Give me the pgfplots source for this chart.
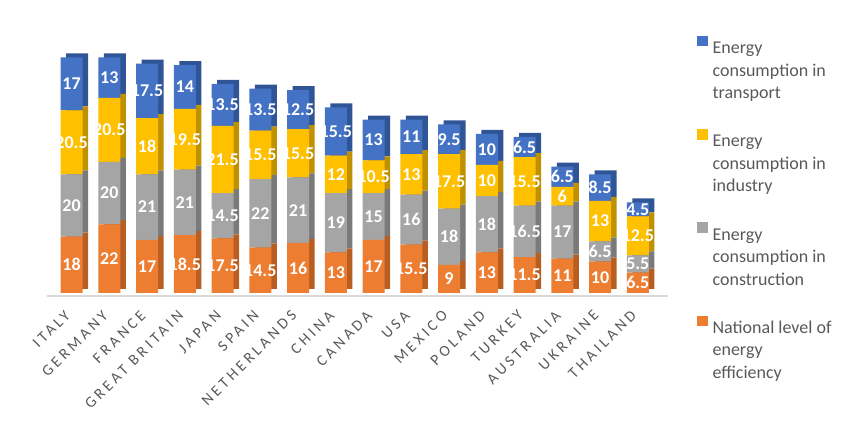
\documentclass[border=0pt]{standalone}
\usepackage{fontspec}
\setmainfont{Carlito}
\newfontfamily\tickfont[LetterSpace=22]{Carlito}
\usepackage{pgfplots}
\usepackage{pgfplotstable}
\pgfplotsset{compat=1.18}

\definecolor{cEff}{HTML}{ED7D31}
\definecolor{cCon}{HTML}{A5A5A5}
\definecolor{cInd}{HTML}{FFC000}
\definecolor{cTra}{HTML}{4472C4}
\definecolor{dEff}{HTML}{B85E20}
\definecolor{dCon}{HTML}{7A7A7A}
\definecolor{dInd}{HTML}{BF9000}
\definecolor{dTra}{HTML}{2F5597}
\definecolor{txtgray}{HTML}{595959}
\definecolor{floor}{HTML}{D9D9D9}

% national efficiency, construction, industry, transport
\pgfplotstableread{
x eff con ind tra
0 18 20 20.5 17
1 22 20 20.5 13
2 17 21 18 17.5
3 18.5 21 19.5 14
4 17.5 14.5 21.5 13.5
5 14.5 22 15.5 13.5
6 16 21 15.5 12.5
7 13 19 12 15.5
8 17 15 10.5 13
9 15.5 16 13 11
10 9 18 17.5 9.5
11 13 18 10 10
12 11.5 16.5 15.5 6.5
13 11 17 6 6.5
14 10 6.5 13 8.5
15 6.5 5.5 12.5 4.5
}\data

\pgfplotsset{
  base/.style={
    scale only axis, width=621pt, height=252.7pt,
    xmin=-0.65, xmax=15.8, ymin=-1, ymax=80,
    anchor=south west, clip=false,
  },
}

\begin{document}
\begin{tikzpicture}
\useasboundingbox (0,0) rectangle (850pt,429pt);

% side and top faces
\begin{axis}[base, at={(52.5pt,137pt)}, hide axis,
  ybar stacked, bar width=22pt]
\addplot[fill=dEff, draw=none] table[x=x, y=eff] {\data};
\addplot[fill=dCon, draw=none] table[x=x, y=con] {\data};
\addplot[fill=dInd, draw=none] table[x=x, y=ind] {\data};
\addplot[fill=dTra, draw=none] table[x=x, y=tra] {\data};
\end{axis}

% front faces
\begin{axis}[base, at={(47pt,133pt)},
  ybar stacked, bar width=22pt,
  axis x line=bottom, axis y line=none,
  x axis line style={-, draw=floor, line width=1.5pt},
  major tick length=0pt, ytick=\empty,
  xtick={0,...,15},
  xticklabels={ITALY,GERMANY,FRANCE,GREAT BRITAIN,JAPAN,SPAIN,NETHERLANDS,CHINA,CANADA,USA,MEXICO,POLAND,TURKEY,AUSTRALIA,UKRAINE,THAILAND},
  xticklabel style={xshift=-4pt, yshift=-17pt, rotate=45, anchor=east, inner sep=0pt,
    font=\tickfont\fontsize{15.5}{18}\selectfont, text=txtgray},
  legend image code/.code={\fill[#1] (0pt,0pt) rectangle (10.7pt,10.7pt);},
  reverse legend,
  legend cell align=left,
  legend style={at={(1.0462,1.031)}, anchor=north west, draw=none, fill=none,
    inner sep=0pt, row sep=74pt, column sep=5pt,
    nodes={inner sep=0pt, text=txtgray},
    font=\fontsize{18}{22.5}\selectfont},
]
\addplot[fill=cEff, draw=none] table[x=x, y=eff] {\data};
\addlegendentry{\begin{tabular}[t]{@{}l@{}}National level of\\energy\\efficiency\end{tabular}}
\addplot[fill=cCon, draw=none] table[x=x, y=con] {\data};
\addlegendentry{\begin{tabular}[t]{@{}l@{}}Energy\\consumption in\\construction\end{tabular}}
\addplot[fill=cInd, draw=none] table[x=x, y=ind] {\data};
\addlegendentry{\begin{tabular}[t]{@{}l@{}}Energy\\consumption in\\industry\end{tabular}}
\addplot[fill=cTra, draw=none] table[x=x, y=tra] {\data};
\addlegendentry{\begin{tabular}[t]{@{}l@{}}Energy\\consumption in\\transport\end{tabular}}
\end{axis}

% value labels at the middle of each segment
\begin{axis}[base, at={(47pt,133pt)}, hide axis,
  /pgf/number format/assume math mode=true,
  nodes near coords, point meta=explicit,
  every node near coord/.append style={anchor=center, text=white,
    font=\bfseries\fontsize{18}{20}\selectfont, inner sep=0pt}]
\addplot[draw=none, mark=none] table[x=x, y expr=\thisrow{eff}/2, meta=eff] {\data};
\addplot[draw=none, mark=none] table[x=x, y expr=\thisrow{eff}+\thisrow{con}/2, meta=con] {\data};
\addplot[draw=none, mark=none] table[x=x, y expr=\thisrow{eff}+\thisrow{con}+\thisrow{ind}/2, meta=ind] {\data};
\addplot[draw=none, mark=none] table[x=x, y expr=\thisrow{eff}+\thisrow{con}+\thisrow{ind}+\thisrow{tra}/2, meta=tra] {\data};
\end{axis}
\end{tikzpicture}
\end{document}
